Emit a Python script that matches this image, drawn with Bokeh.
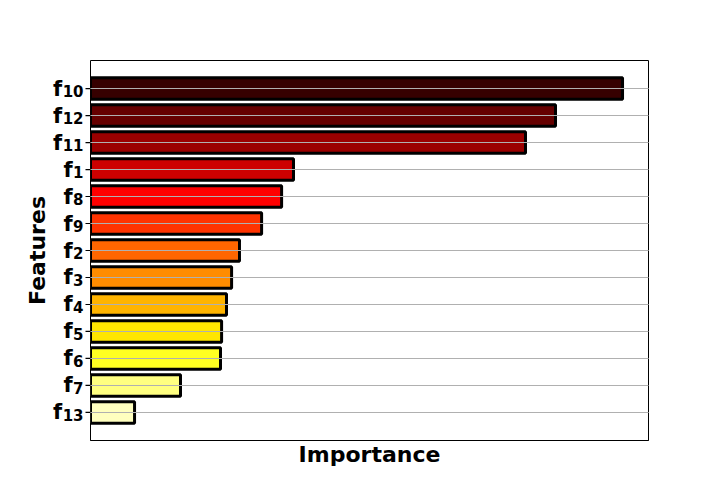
import math
from bokeh.plotting import figure
from bokeh.layouts import row
from bokeh.models import ColumnDataSource, FixedTicker, Range1d, Grid
from bokeh.core.properties import value
from bokeh.embed import file_html
from bokeh.resources import INLINE

# Feature subscript numbers, top to bottom
feature_nums = ["10", "12", "11", "1", "8", "9", "2", "3", "4", "5", "6", "7", "13"]
importance = [0.2500, 0.2185, 0.2044, 0.0954, 0.0898, 0.0804, 0.0700,
              0.0663, 0.0639, 0.0616, 0.0611, 0.0423, 0.0207]
palette = ["#360000", "#660000", "#9b0000", "#cd0000", "#ff0000", "#ff3300",
           "#ff6600", "#ff8c00", "#ffb400", "#ffe600", "#ffff22", "#ffff80", "#ffffbf"]

n = len(feature_nums)
ypos = [n - 1 - i for i in range(n)]
font = "DejaVu Sans"
W, H = 720, 504
LW = 90            # width of the label strip (px)
TOP, BOT = 60, 64  # borders
SUB_PX = 10.4      # advance of one subscript digit at 15px

yr = Range1d(-1.04, 13.04)

# ---------- label strip (tick labels f_n, ticks, y axis title) ----------
lab = figure(width=LW, height=H, output_backend="svg", toolbar_location=None,
             x_range=Range1d(0, LW), y_range=yr,
             x_axis_location=None, y_axis_location=None,
             min_border_left=0, min_border_right=0, min_border_top=TOP, min_border_bottom=BOT)
lab.outline_line_color = None
lab.xgrid.visible = False
lab.ygrid.visible = False

sub_right = LW - 7
lsrc = ColumnDataSource(dict(
    y=ypos, f=["f"] * n, num=feature_nums,
    xf=[sub_right - SUB_PX * len(s) - 0.5 for s in feature_nums],
    xn=[sub_right] * n,
    t0=[LW - 5] * n, t1=[LW] * n,
))
lab.text(x="xf", y="y", text="f", source=lsrc, y_offset=0,
         text_font=value(font), text_font_style="bold", text_font_size="21px",
         text_align="right", text_baseline="alphabetic", text_color="black")
lab.text(x="xn", y="y", text="num", source=lsrc, y_offset=2.5,
         text_font=value(font), text_font_style="bold", text_font_size="15px",
         text_align="right", text_baseline="alphabetic", text_color="black")
lab.segment(x0="t0", y0="y", x1="t1", y1="y", source=lsrc, line_color="black", line_width=1.2)
lab.text(x=[37], y=[(yr.start + yr.end) / 2], text=["Features"], angle=math.pi / 2,
         text_font=value(font), text_font_style="bold", text_font_size="22px",
         text_align="center", text_baseline="middle", text_color="black")

# ---------- main plot ----------
src = ColumnDataSource(dict(y=ypos, v=importance, color=palette))
p = figure(width=W - LW, height=H, output_backend="svg", toolbar_location=None,
           x_range=Range1d(0, 0.2622), y_range=yr, y_axis_location=None,
           min_border_left=0, min_border_right=72, min_border_top=TOP, min_border_bottom=BOT)

p.hbar(y="y", right="v", left=0, height=0.8, fill_color="color",
       line_color="black", line_width=3, source=src)

p.outline_line_color = "black"
p.outline_line_width = 1
p.background_fill_color = "white"

p.xaxis.ticker = FixedTicker(ticks=[])
p.xaxis.major_tick_line_color = None
p.xaxis.minor_tick_line_color = None
p.xaxis.major_label_text_font_size = "0px"
p.xaxis.axis_line_color = "black"
p.xaxis.axis_label = "Importance"
p.xaxis.axis_label_text_font = font
p.xaxis.axis_label_text_font_style = "bold"
p.xaxis.axis_label_text_font_size = "22px"
p.xaxis.axis_label_text_color = "black"
p.xaxis.axis_label_standoff = 1

p.xgrid.visible = False
grid = Grid(dimension=1, ticker=FixedTicker(ticks=ypos), grid_line_color="#b0b0b0",
            grid_line_width=1, level="overlay")
p.add_layout(grid)

layout = row(lab, p, spacing=0)
open("out.html", "w").write(file_html(layout, INLINE))
